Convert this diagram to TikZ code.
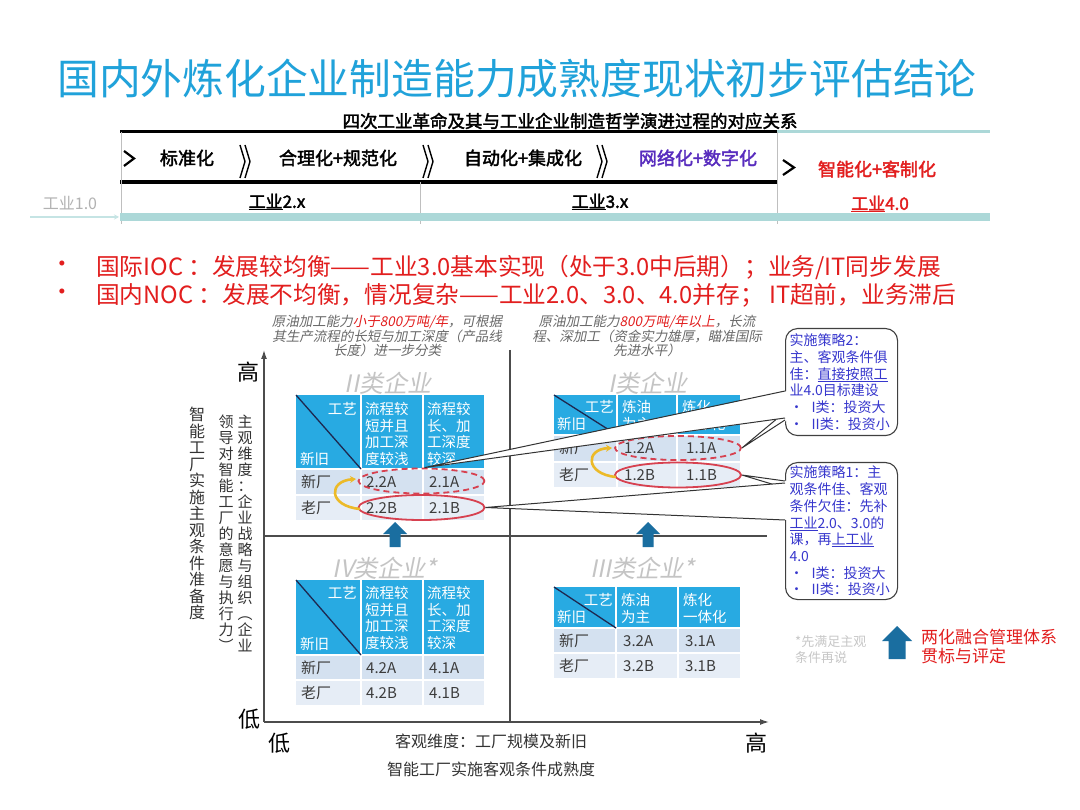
\documentclass[tikz,border=0pt]{standalone}
\usepackage{fontspec}
\setmainfont{Noto Sans CJK SC}[AutoFakeBold=2.2,AutoFakeSlant=0.2]
\usetikzlibrary{arrows.meta,shapes.geometric,calc}
\definecolor{titleblue}{RGB}{32,162,218}
\definecolor{hdrblue}{RGB}{40,170,226}
\definecolor{rowa}{RGB}{212,225,240}
\definecolor{rowb}{RGB}{230,237,246}
\definecolor{ellred}{RGB}{215,65,80}
\definecolor{goldc}{RGB}{236,186,40}
\definecolor{arrblue}{RGB}{26,110,160}
\definecolor{txtred}{RGB}{226,30,30}
\definecolor{purp}{RGB}{88,44,190}
\definecolor{callblue}{RGB}{55,55,205}
\definecolor{tealbar}{RGB}{172,216,216}
\definecolor{qgray}{RGB}{196,196,196}
\definecolor{agray}{RGB}{105,105,105}
\definecolor{bodygray}{RGB}{60,60,60}
\definecolor{diagc}{RGB}{30,40,80}
\tikzset{
  hdr/.style={text=white, font=\fontsize{14.5}{16.7}\selectfont, inner sep=0pt, align=left},
  cell/.style={text=bodygray, font=\fontsize{15}{15}\selectfont, inner sep=0pt, anchor=west},
  qlab/.style={text=qgray, font=\fontsize{24}{24}\selectfont\itshape, inner sep=0pt},
  ann/.style={text=agray, font=\fontsize{13.5}{13.2}\selectfont\itshape, align=center, inner sep=0pt},
  barone/.style={font=\fontsize{18}{18}\selectfont\bfseries, inner sep=0pt},
  bartwo/.style={font=\fontsize{17}{17}\selectfont\bfseries, inner sep=0pt},
  bul/.style={text=txtred, font=\fontsize{23.7}{23.7}\selectfont, inner sep=0pt},
  callbox/.style={draw=black!75, line width=1.1pt, rounded corners=12pt, fill=white, text=callblue,
     font=\fontsize{14}{16.7}\selectfont, align=left, text width=104pt, inner xsep=4pt, inner ysep=0pt, anchor=north west},
  ell/.style={ellipse, draw=ellred, line width=1.8pt, minimum width=126pt, minimum height=25pt, inner sep=0pt},
  goldarc/.style={goldc, line width=2.6pt, -{Stealth[length=6pt,width=7pt]}},
  vtxt/.style={font=\fontsize{15}{16}\selectfont, align=center, anchor=north, inner sep=0pt, text=black!80},
  axisl/.style={black!70, line width=1.3pt, -{Latex[length=9pt,width=6pt]}},
  divl/.style={black!70, line width=1.2pt},
  vline/.style={black!25, line width=0.8pt},
  diagl/.style={diagc, line width=1.3pt},
  wline/.style={white, line width=1.3pt},
  calll/.style={black!80, line width=1pt},
  uparr/.pic={\fill[arrblue] (0,0) -- (12,12) -- (5.5,12) -- (5.5,25) -- (-5.5,25) -- (-5.5,12) -- (-12,12) -- cycle;},
  bigarr/.pic={\fill[arrblue] (0,0) -- (15,15) -- (8.5,15) -- (8.5,33) -- (-8.5,33) -- (-8.5,15) -- (-15,15) -- cycle;}
}
\begin{document}
\begin{tikzpicture}[x=1pt,y=-1pt]
\useasboundingbox (0,0) rectangle (1080,810);
\fill[white] (0,0) rectangle (1080,810);

% ---------- title ----------
\node[text=titleblue, font=\fontsize{41.8}{41.8}\selectfont, inner sep=0pt] (title) at (517,79) {国内外炼化企业制造能力成熟度现状初步评估结论};
\node[font=\fontsize{17.5}{17.5}\selectfont\bfseries, inner sep=0pt] (sub) at (570,121) {四次工业革命及其与工业企业制造哲学演进过程的对应关系};

% ---------- top bar ----------
\draw[line width=3pt] (120,132) -- (777,132);
\draw[tealbar, line width=3pt] (777,132) -- (990,132);
\draw[line width=3.5pt] (120,182) -- (777,182);
\draw[vline] (121,132) -- (121,224) (420,182) -- (420,224) (777,132) -- (777,224);
\fill[tealbar] (120,213) rectangle (990,221);
\draw[tealbar!70, line width=1.5pt, -{Stealth[length=5pt,width=5pt]}] (30,217) -- (119,217);
\draw[line width=2.2pt] (124,151) -- (134,158.5) -- (124,166);
\draw[line width=2.2pt] (783,160) -- (794,167.5) -- (783,175);
\foreach \x in {240,423,597}{
  \draw[line width=1.4pt] (\x,145) -- (\x+5,161.5) -- (\x,178) (\x+5,145) -- (\x+10,161.5) -- (\x+5,178);
}
\node[barone] (bz) at (187,158) {标准化};
\node[barone] (hl) at (338,158) {合理化+规范化};
\node[barone] (zd) at (523,158) {自动化+集成化};
\node[barone, text=purp] (wl) at (698,158) {网络化+数字化};
\node[barone, text=txtred] (zn) at (877,169) {智能化+客制化};
\node[text=black!30, font=\fontsize{16}{16}\selectfont, inner sep=0pt] (g1) at (70,203) {工业1.0};
\node[bartwo] (g2) at (277,202) {\underline{工业}2.x};
\node[bartwo] (g3) at (600,202) {\underline{工业}3.x};
\node[bartwo, text=txtred] (g4) at (880,204) {\underline{工业}4.0};

% ---------- bullets ----------
\node[bul] (bd1) at (62,267) {•};
\node[bul, anchor=west] (bt1) at (96,267) {国际IOC ：发展较均衡——工业3.0基本实现（处于3.0中后期）；业务/IT同步发展};
\node[bul] (bd2) at (62,295) {•};
\node[bul, anchor=west] (bt2) at (96,295) {国内NOC ：发展不均衡，情况复杂——工业2.0、3.0、4.0并存； IT超前，业务滞后};

% ---------- annotations ----------
\node[ann] (anl) at (387,336) {原油加工能力\textcolor{txtred}{小于800万吨/年}，可根据\\其生产流程的长短与加工深度（产品线\\长度）进一步分类};
\node[ann] (anr) at (647,336) {原油加工能力\textcolor{txtred}{800万吨/年以上}，长流\\程、深加工（资金实力雄厚，瞄准国际\\先进水平）};

% ---------- axes ----------
\draw[divl] (510,350) -- (510,722);
\draw[divl] (264,536) -- (767,536);
\draw[axisl] (264,722) -- (264,350);
\draw[axisl] (264,722) -- (769,722);
\node[font=\fontsize{22}{22}\selectfont, inner sep=0pt] (hiy) at (248,372) {高};
\node[font=\fontsize{22}{22}\selectfont, inner sep=0pt] (loy) at (249,719) {低};
\node[font=\fontsize{22}{22}\selectfont, inner sep=0pt] (lox) at (279,743) {低};
\node[font=\fontsize{22}{22}\selectfont, inner sep=0pt] (hix) at (756,743) {高};
\node[font=\fontsize{16}{16}\selectfont, inner sep=0pt, text=black!80] (xl1) at (491,741) {客观维度：工厂规模及新旧};
\node[font=\fontsize{16}{16}\selectfont, inner sep=0pt, text=black!80] (xl2) at (491,769) {智能工厂实施客观条件成熟度};
\node[vtxt] (yv1) at (245,415) {主\\观\\维\\度\\：\\企\\业\\战\\略\\与\\组\\织\\︵\\企\\业};
\node[vtxt] (yv2) at (226,415) {领\\导\\对\\智\\能\\工\\厂\\的\\意\\愿\\与\\执\\行\\力\\︶};
\node[vtxt, font=\fontsize{16}{16.5}\selectfont] (yv3) at (197,407) {智\\能\\工\\厂\\实\\施\\主\\观\\条\\件\\准\\备\\度};

% ---------- quadrant labels ----------
\node[qlab] (q2) at (388,383) {II类企业};
\node[qlab] (q1) at (648,383) {I类企业};
\node[qlab] (q4) at (385,568) {IV类企业*};
\node[qlab] (q3) at (643,568) {III类企业*};

% ---------- table II ----------
\fill[hdrblue] (296,395) rectangle (484,469);
\fill[rowa] (296,469) rectangle (484,495);
\fill[rowb] (296,495) rectangle (484,520);
\draw[wline] (361,395) -- (361,520) (423,395) -- (423,520) (296,469) -- (484,469) (296,495) -- (484,495);
\draw[diagl] (296,395) -- (361,469);
\node[hdr, anchor=east] (t2a) at (357,409) {工艺};
\node[hdr, anchor=west] (t2b) at (300,459) {新旧};
\node[hdr, anchor=west] (t2c) at (365,434) {流程较\\短并且\\加工深\\度较浅};
\node[hdr, anchor=west] (t2d) at (427,434) {流程较\\长、加\\工深度\\较深};
\node[cell] (t2e) at (301,482) {新厂};
\node[cell] (t2f) at (366,482) {2.2A};
\node[cell] (t2g) at (429,482) {2.1A};
\node[cell] (t2h) at (301,508) {老厂};
\node[cell] (t2i) at (366,508) {2.2B};
\node[cell] (t2j) at (429,508) {2.1B};

% ---------- table I ----------
\fill[hdrblue] (554,395) rectangle (740,435);
\fill[rowa] (554,435) rectangle (740,462);
\fill[rowb] (554,462) rectangle (740,487);
\draw[wline] (617,395) -- (617,487) (677,395) -- (677,487) (554,435) -- (740,435) (554,462) -- (740,462);
\draw[diagl] (554,395) -- (617,435);
\node[hdr, anchor=east] (t1a) at (614,407) {工艺};
\node[hdr, anchor=west] (t1b) at (557,424) {新旧};
\node[hdr, anchor=west] (t1c) at (622,415.5) {炼油\\为主};
\node[hdr, anchor=west] (t1d) at (682,415.5) {炼化\\一体化};
\node[cell] (t1e) at (559,448) {新厂};
\node[cell] (t1f) at (624,448) {1.2A};
\node[cell] (t1g) at (686,448) {1.1A};
\node[cell] (t1h) at (559,475) {老厂};
\node[cell] (t1i) at (624,475) {1.2B};
\node[cell] (t1j) at (686,475) {1.1B};

% ---------- table IV ----------
\fill[hdrblue] (296,580) rectangle (484,655);
\fill[rowa] (296,655) rectangle (484,680);
\fill[rowb] (296,680) rectangle (484,705);
\draw[wline] (361,580) -- (361,705) (423,580) -- (423,705) (296,655) -- (484,655) (296,680) -- (484,680);
\draw[diagl] (296,580) -- (361,655);
\node[hdr, anchor=east] (t4a) at (357,593) {工艺};
\node[hdr, anchor=west] (t4b) at (300,644) {新旧};
\node[hdr, anchor=west] (t4c) at (365,618) {流程较\\短并且\\加工深\\度较浅};
\node[hdr, anchor=west] (t4d) at (427,618) {流程较\\长、加\\工深度\\较深};
\node[cell] (t4e) at (301,668) {新厂};
\node[cell] (t4f) at (366,668) {4.2A};
\node[cell] (t4g) at (429,668) {4.1A};
\node[cell] (t4h) at (301,693) {老厂};
\node[cell] (t4i) at (366,693) {4.2B};
\node[cell] (t4j) at (429,693) {4.1B};

% ---------- table III ----------
\fill[hdrblue] (554,587) rectangle (740,628);
\fill[rowa] (554,628) rectangle (740,653);
\fill[rowb] (554,653) rectangle (740,678);
\draw[wline] (616,587) -- (616,678) (678,587) -- (678,678) (554,628) -- (740,628) (554,653) -- (740,653);
\draw[diagl] (554,587) -- (616,628);
\node[hdr, anchor=east] (t3a) at (613,600) {工艺};
\node[hdr, anchor=west] (t3b) at (557,617) {新旧};
\node[hdr, anchor=west] (t3c) at (621,608.5) {炼油\\为主};
\node[hdr, anchor=west] (t3d) at (683,608.5) {炼化\\一体化};
\node[cell] (t3e) at (559,641) {新厂};
\node[cell] (t3f) at (623,641) {3.2A};
\node[cell] (t3g) at (685,641) {3.1A};
\node[cell] (t3h) at (559,666) {老厂};
\node[cell] (t3i) at (623,666) {3.2B};
\node[cell] (t3j) at (685,666) {3.1B};

% ---------- ellipses and arcs ----------
\node[ell, dashed, dash pattern=on 6pt off 4pt] (e2a) at (421.5,481) {};
\node[ell] (e2b) at (421.5,507.5) {};
\node[ell, dashed, dash pattern=on 6pt off 4pt, minimum height=24pt] (e1a) at (678,448) {};
\node[ell] (e1b) at (678,475) {};
\draw[goldarc] (360,509) .. controls (328,506) and (328,481) .. (356,479);
\draw[goldarc] (616,477) .. controls (585,474) and (585,449) .. (612,448);

% ---------- blue arrows ----------
\pic at (395,522) {uparr};
\pic at (648,522) {uparr};
\pic at (897,626) {bigarr};
\node[text=black!22, font=\fontsize{13}{16}\selectfont, align=left, anchor=west, inner sep=0pt] (note) at (795,650) {*先满足主观\\条件再说};
\node[text=txtred, font=\fontsize{17}{18.5}\selectfont, align=left, anchor=west, inner sep=0pt] (leg) at (921,646.5) {两化融合管理体系\\贯标与评定};

% ---------- callouts ----------
\node[callbox, minimum height=107pt] (s2) at (785,328) {实施策略2：\\主、客观条件俱\\佳：\underline{直接按照工}\\业4.0目标建设\\•\hspace{8pt}I类：投资大\\•\hspace{8pt}II类：投资小};
\node[callbox, minimum height=137pt] (s1) at (785,462) {实施策略1：主\\观条件佳、客观\\条件欠佳：先补\\\underline{工业}2.0、3.0的\\课，再\underline{上工业}\\4.0\\•\hspace{8pt}I类：投资大\\•\hspace{8pt}II类：投资小};

\newcommand\wedgeco[3]{%
  \fill[white] #1 -- ($#2+(2.5,0)$) -- ($#3+(2.5,0)$) -- cycle;
  \draw[calll] #2 -- #1 -- #3;}
% small wedges
\wedgeco{(e1a.east)}{($(s2.north west)+(0,84)$)}{($(s2.north west)+(0,92)$)}
\wedgeco{(e1b.east)}{($(s1.north west)+(0,19)$)}{($(s1.north west)+(0,26)$)}
% big wedges
\wedgeco{($(e2a.north)+(3,0)$)}{($(s2.north west)+(0,63)$)}{($(s2.north west)+(0,90)$)}
\wedgeco{(e2b.east)}{($(s1.north west)+(0,21)$)}{($(s1.north west)+(0,58)$)}
\end{tikzpicture}
\end{document}
